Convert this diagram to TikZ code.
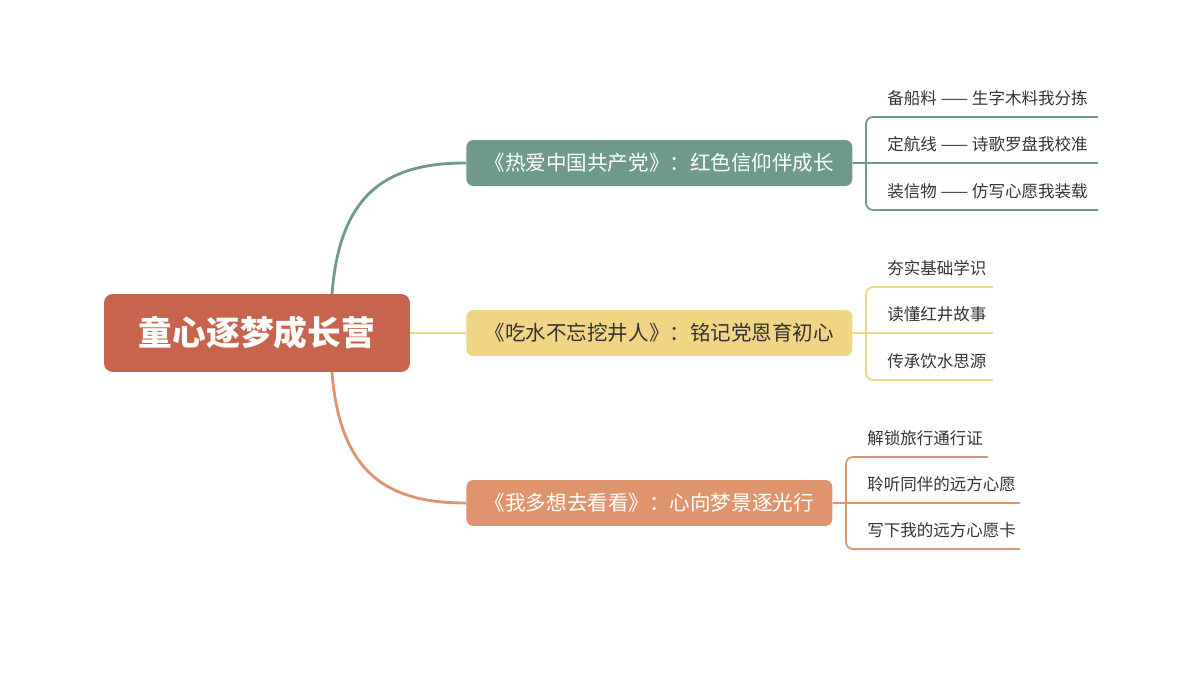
\documentclass[tikz,border=0pt]{standalone}
\usepackage{fontspec}
\setmainfont{Noto Sans CJK SC}
\usetikzlibrary{positioning}
\definecolor{rootc}{HTML}{C8644E}
\definecolor{tealc}{HTML}{6F9A8A}
\definecolor{yelc}{HTML}{F0D584}
\definecolor{orc}{HTML}{E0946D}
\definecolor{txtc}{HTML}{333333}

\begin{document}
\begin{tikzpicture}[%
    x=0.02cm, y=-0.02cm,
    root/.style={fill=rootc, text=white, rounded corners=5pt, minimum width=6.12cm,
      minimum height=1.56cm, font=\fontsize{19.2}{21}\selectfont\bfseries},
    topic/.style={rounded corners=4pt, minimum height=0.92cm, anchor=west,
      font=\fontsize{11.7}{13}\selectfont, inner xsep=0pt},
    leaf/.style={anchor=south west, font=\fontsize{9.4}{11}\selectfont, text=txtc,
      inner xsep=0pt, inner ysep=6pt},
    link/.style={line width=1.6pt},
    twig/.style={line width=1pt, rounded corners=4pt}]
    \useasboundingbox (0,0) rectangle (1200,675);

    \node[root] (camp) at (257,333) {童心逐梦成长营};
    \node[topic, fill=tealc, text=white, minimum width=7.72cm] (red) at (466,163)
      {《热爱中国共产党》：红色信仰伴成长};
    \node[topic, fill=yelc, text=txtc, minimum width=7.72cm] (well) at (466,333)
      {《吃水不忘挖井人》：铭记党恩育初心};
    \node[topic, fill=orc, text=white, minimum width=7.32cm] (look) at (466,503)
      {《我多想去看看》：心向梦景逐光行};

    \coordinate (up) at (332,294);
    \coordinate (down) at (332,372);
    \draw[link, tealc] (up) .. controls (340,190) and (390,163) .. (red.west);
    \draw[link, yelc] (camp.east) -- (well.west);
    \draw[link, orc] (down) .. controls (340,476) and (390,503) .. (look.west);

    % leaves of the first topic
    \coordinate (r1) at (1098,117); \coordinate (r2) at (1098,163); \coordinate (r3) at (1098,210);
    \draw[twig, tealc] (red.east) -- (866,163) (r1) -- (866,117) -- (866,210) -- (r3)
      (866,163) -- (r2);
    \node[leaf] (r1t) at (887,117) {备船料 —— 生字木料我分拣};
    \node[leaf] (r2t) at (887,163) {定航线 —— 诗歌罗盘我校准};
    \node[leaf] (r3t) at (887,210) {装信物 —— 仿写心愿我装载};

    % leaves of the second topic
    \coordinate (w1) at (993,287); \coordinate (w2) at (993,333); \coordinate (w3) at (993,380);
    \draw[twig, yelc] (well.east) -- (866,333) (w1) -- (866,287) -- (866,380) -- (w3)
      (866,333) -- (w2);
    \node[leaf] (w1t) at (887,287) {夯实基础学识};
    \node[leaf] (w2t) at (887,333) {读懂红井故事};
    \node[leaf] (w3t) at (887,380) {传承饮水思源};

    % leaves of the third topic
    \coordinate (l1) at (988,457); \coordinate (l2) at (1020,503); \coordinate (l3) at (1020,549);
    \draw[twig, orc] (look.east) -- (846,503) (l1) -- (846,457) -- (846,549) -- (l3)
      (846,503) -- (l2);
    \node[leaf] (l1t) at (867,457) {解锁旅行通行证};
    \node[leaf] (l2t) at (867,503) {聆听同伴的远方心愿};
    \node[leaf] (l3t) at (867,549) {写下我的远方心愿卡};
\end{tikzpicture}
\end{document}
